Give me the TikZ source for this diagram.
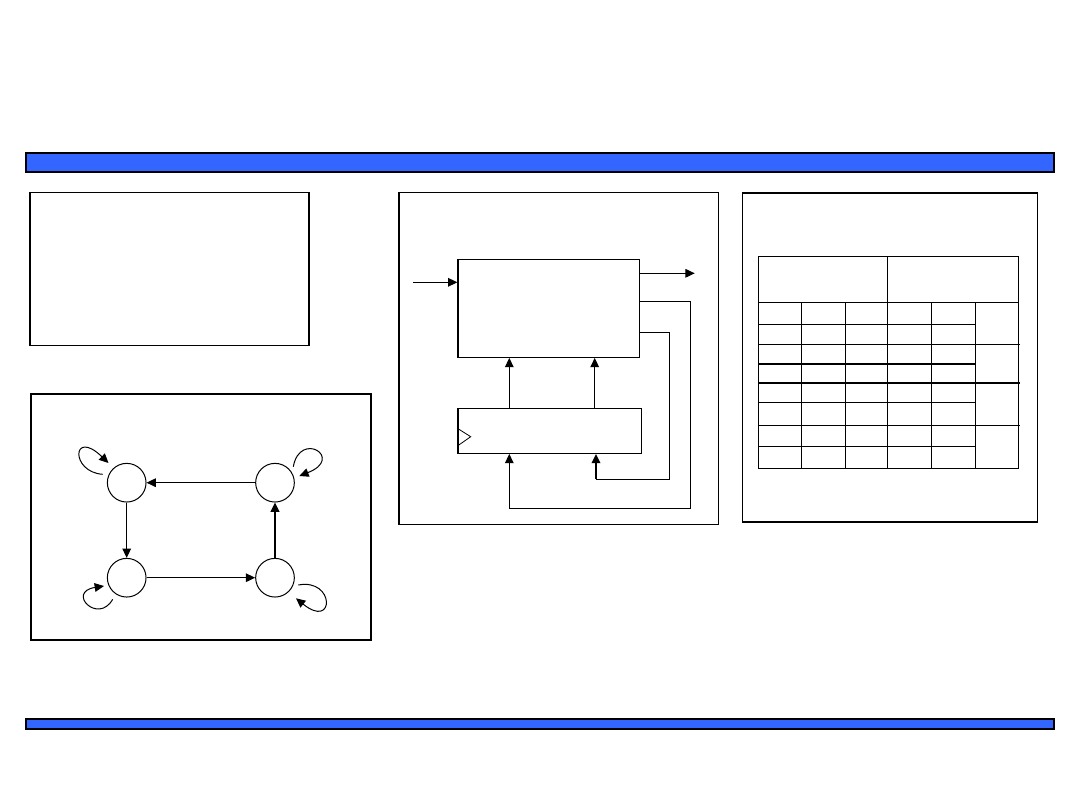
\documentclass[tikz,border=0pt]{standalone}
\usetikzlibrary{arrows.meta}
\definecolor{barblue}{HTML}{3366FF}
\begin{document}
\begin{tikzpicture}[x=0.75pt,y=-0.75pt,
  bar/.style={draw=black,fill=barblue,line width=1.5pt},
  panel/.style={draw=black,line width=1.1pt},
  state/.style={circle,draw,line width=0.75pt,minimum size=29pt,inner sep=0pt},
  block/.style={rectangle,draw,line width=0.9pt,inner sep=0pt},
  arr/.style={line width=0.75pt,-{Triangle[length=7pt,width=6.5pt]}},
  tline/.style={line width=0.75pt},
  tthick/.style={line width=1.6pt}]
\useasboundingbox (0,0) rectangle (1080,810);
% bars
\draw[bar] (26,152.7) rectangle (1053.7,171.5);
\draw[bar] (26,719) rectangle (1053.5,729.3);
% panels
\draw[panel] (30,192.3) rectangle (309,345.3);
\draw[panel] (31,394) rectangle (371,640);
\draw[panel] (399,192.7) rectangle (718.5,524.3);
\draw[panel] (742.3,193) rectangle (1037.3,522);

% state diagram
\node[state] (tl) at (126.7,482.7) {};
\node[state] (tr) at (275,482.7) {};
\node[state] (bl) at (126.7,577.7) {};
\node[state] (br) at (275,577.7) {};
\draw[arr] (tr.west) -- (tl.east);
\draw[arr] (tl.south) -- (bl.north);
\draw[arr] (bl.east) -- (br.west);
\draw[arr,line width=1.3pt] (br.north) -- (tr.south);
\coordinate (tls) at (102.7,474.3); \coordinate (tle) at (108.5,463);
\draw[arr] (tls) .. controls (70,472) and (72,428) .. (tle);
\coordinate (trs) at (293.3,466.7); \coordinate (tre) at (299.3,476);
\draw[arr] (trs) .. controls (300,430) and (345,458) .. (tre);
\coordinate (bls) at (112.7,599.3); \coordinate (ble) at (104,586);
\draw[arr] (bls) .. controls (98,625) and (66,592) .. (ble);
\coordinate (brs) at (298.3,585); \coordinate (bre) at (296,598.3);
\draw[arr] (brs) .. controls (335,578) and (335,630) .. (bre);

% block diagram
\node[block,minimum width=136pt,minimum height=73.5pt] (upper) at (548.65,308.3) {};
\node[block,minimum width=137.5pt,minimum height=33.75pt] (lower) at (549.65,430.8) {};
\draw[line width=0.6pt] (lower.west |- 0,428.3) -- (470.7,436.7) -- (lower.west |- 0,446);
\coordinate (in) at (413,282.3);
\draw[arr] (in) -- (in -| upper.west);
\coordinate (out) at (694.7,273.3);
\draw[arr] (upper.east |- out) -- (out);
\draw[arr] (lower.north -| 509.3,0) -- (upper.south -| 509.3,0);
\draw[arr] (lower.north -| 594.7,0) -- (upper.south -| 594.7,0);
\coordinate (fa) at (690.3,508.3);
\coordinate (fb) at (669.7,479.3);
\draw[arr] (upper.east |- 0,301) -| (fa) -| (lower.south -| 509.3,0);
\draw[line width=0.75pt] (upper.east |- 0,332.7) -| (fb) -- (596,479.3);
\draw[arr,line width=1.3pt] (596,479.3) -- (lower.south -| 596,0);

% table
\draw[tline] (758.3,256.3) rectangle (1018.7,468.3);
\draw[tline] (887.3,256.3) -- (887.3,302.3);
\draw[tline] (758.3,302.3) -- (1018.7,302.3);
\foreach \x in {801.7,845.3,887.3,931.3,975.3} \draw[tline] (\x,302.3) -- (\x,468.3);
\foreach \y in {324.3,402.3,446.3} \draw[tline] (758.3,\y) -- (975.3,\y);
\draw[tthick] (758.3,363.7) -- (975.3,363.7);
\foreach \y in {344.3,425.3} \draw[tline] (758.3,\y) -- (1020,\y);
\draw[tthick] (758.3,383.3) -- (1020,383.3);
\end{tikzpicture}
\end{document}
